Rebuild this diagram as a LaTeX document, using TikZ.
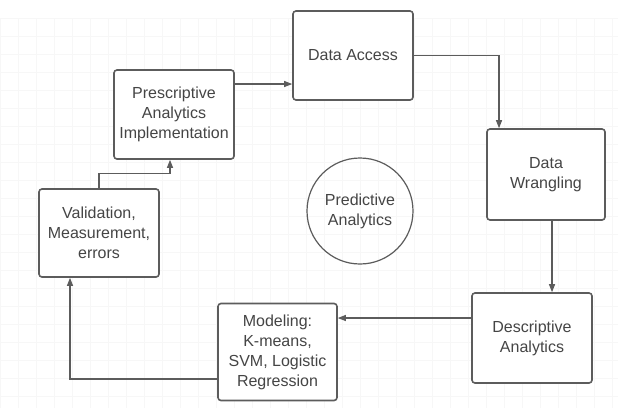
\documentclass[tikz,border=0pt]{standalone}
\usepackage{fontspec}
\setmainfont{Liberation Sans}
\usetikzlibrary{arrows.meta,positioning}

\definecolor{edgegray}{HTML}{5C5C5C}
\definecolor{textgray}{HTML}{454545}

\begin{document}
\begin{tikzpicture}[x=1pt,y=1pt,
    stage/.style={draw=edgegray, line width=1.6pt, rounded corners=3pt, fill=white,
                  minimum width=120pt, minimum height=89pt, inner sep=2pt,
                  align=center, text=textgray,
                  font=\fontsize{16}{20}\selectfont},
    hub/.style={circle, draw=edgegray, line width=1.2pt, minimum size=106pt,
                align=center, text=textgray, font=\fontsize{16}{20}\selectfont},
    flow/.style={draw=edgegray, line width=1.1pt,
                 -{Triangle[length=8pt,width=6pt]}}]
\def\W{618} % picture width
\def\H{408} % picture height

\useasboundingbox (0,0) rectangle (\W,-\H);
\fill[white] (0,0) rectangle (\W,-\H);
% faint grid in the back
\draw[black!3, line width=0.4pt, step=18pt] (0,-18) grid (\W,-\H);

% the six stages round the cycle
\node[stage] (access) at (353,-55.5) {Data Access};
\node[stage, minimum width=118pt, minimum height=91pt] (wrangling) at (546,-174.5) {Data\\Wrangling};
\node[stage, minimum height=90pt] (descriptive) at (532,-338) {Descriptive\\Analytics};
\node[stage, minimum width=119pt, minimum height=97pt] (modeling) at (277.5,-352) {Modeling:\\K-means,\\SVM, Logistic\\Regression};
\node[stage, minimum height=88pt] (validation) at (99,-233) {Validation,\\Measurement,\\errors};
\node[stage] (prescriptive) at (174,-114.5) {Prescriptive\\Analytics\\Implementation};

% centre
\node[hub] (predictive) at (360,-211) {Predictive\\Analytics};

% connectors
\coordinate (p1) at ([yshift=30.5pt]prescriptive.east);
\draw[flow] (p1) -- (p1 -| access.west);
\draw[flow] (access.east) -| ([xshift=-47pt]wrangling.north);
\coordinate (w1) at ([xshift=6pt]wrangling.south);
\draw[flow] (w1) -- (w1 |- descriptive.north);
\coordinate (d1) at ([yshift=20pt]descriptive.west);
\draw[flow] (d1) -- (d1 -| modeling.east);
\draw[flow] ([yshift=-27pt]modeling.west) -| ([xshift=-29pt]validation.south);
\draw[flow] (validation.north) -- ++(0,15pt) -| ([xshift=-4pt]prescriptive.south);

\end{tikzpicture}
\end{document}
